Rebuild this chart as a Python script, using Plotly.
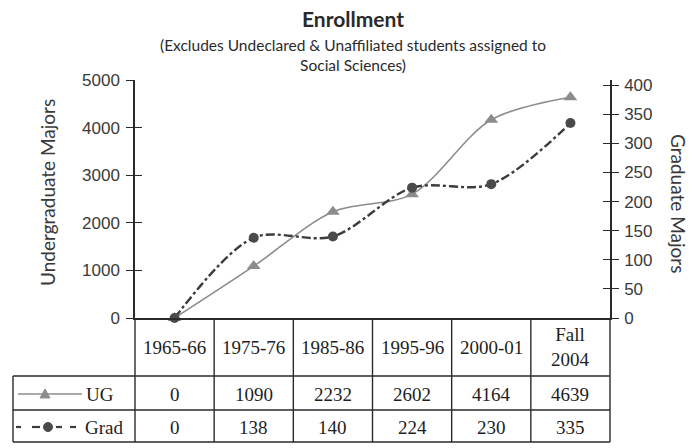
import plotly.graph_objects as go

# Enrollment by period
periods = ["1965-66", "1975-76", "1985-86", "1995-96", "2000-01", "Fall 2004"]
period_labels = ["1965-66", "1975-76", "1985-86", "1995-96", "2000-01", "Fall<br>2004"]
ug = [0, 1090, 2232, 2602, 4164, 4639]
grad = [0, 138, 140, 224, 230, 335]
ug_ticks = [0, 1000, 2000, 3000, 4000, 5000]
grad_ticks = [0, 50, 100, 150, 200, 250, 300, 350, 400]

W, H = 692, 448
L, R, T, B = 135, 82, 80, 130
PW, PH = W - L - R, H - T - B

UG_COLOR = "#8c8c8c"
GRAD_COLOR = "#3c3c3c"
INK = "#2a2a2a"


def px(x):
    return (x - L) / PW


def py(y):
    return (H - B - y) / PH


fig = go.Figure()
fig.add_trace(go.Scatter(
    x=periods, y=ug, name="UG", mode="lines+markers",
    line=dict(color=UG_COLOR, width=1.6, shape="spline", smoothing=0.9),
    marker=dict(symbol="triangle-up", size=12, color=UG_COLOR),
    yaxis="y", cliponaxis=False,
))
fig.add_trace(go.Scatter(
    x=periods, y=grad, name="Grad", mode="lines+markers",
    line=dict(color=GRAD_COLOR, width=2.4, dash="dashdot", shape="spline", smoothing=0.9),
    marker=dict(symbol="circle", size=10, color="#4a4a4a"),
    yaxis="y2", cliponaxis=False,
))

tick_font = dict(family="Liberation Sans", size=17, color="#3a3a3a")
axis_common = dict(showgrid=False, zeroline=False, fixedrange=True)

fig.update_layout(
    width=W, height=H,
    margin=dict(l=L, r=R, t=T, b=B),
    paper_bgcolor="white", plot_bgcolor="white",
    showlegend=False,
    xaxis=dict(type="category", categoryorder="array", categoryarray=periods,
               range=[-0.5, len(periods) - 0.5], showticklabels=False, ticks="",
               showline=True, linecolor=INK, linewidth=1.5, **axis_common),
    yaxis=dict(range=[0, 5000], tickvals=ug_ticks, ticks="outside", ticklen=7,
               tickcolor=INK, tickwidth=1.3, showline=True, linecolor=INK, linewidth=1.5,
               tickfont=tick_font, ticklabelstandoff=3, **axis_common),
    yaxis3=dict(range=[0, 5000], tickvals=ug_ticks, ticks="inside", ticklen=7,
                tickcolor=INK, tickwidth=1.3, showticklabels=False, overlaying="y",
                side="left", anchor="x", **axis_common),
    yaxis2=dict(range=[0, 409], tickvals=grad_ticks, ticks="outside", ticklen=7,
                tickcolor=INK, tickwidth=1.3, showline=True, linecolor=INK, linewidth=1.5,
                tickfont=tick_font, ticklabelstandoff=2, overlaying="y", side="right",
                anchor="x", **axis_common),
    yaxis4=dict(range=[0, 409], tickvals=grad_ticks, ticks="inside", ticklen=7,
                tickcolor=INK, tickwidth=1.3, showticklabels=False, overlaying="y",
                side="right", anchor="x", **axis_common),
)

# invisible traces so the overlay tick axes are drawn
fig.add_trace(go.Scatter(x=[periods[0]], y=[0], yaxis="y3", mode="markers",
                         marker=dict(opacity=0), hoverinfo="skip"))
fig.add_trace(go.Scatter(x=[periods[0]], y=[0], yaxis="y4", mode="markers",
                         marker=dict(opacity=0), hoverinfo="skip"))


def note(text, x, y, font, xanchor="center", **kw):
    return dict(text=text, x=x, y=y, xref="paper", yref="paper", showarrow=False,
                xanchor=xanchor, yanchor="middle", font=font, **kw)


annotations = []
title_font = "Lato"
annotations.append(note("<b>Enrollment</b>", px(353), py(18),
                        dict(family=title_font, size=21, color="#2a2a2a")))
annotations.append(note("(Excludes Undeclared &amp; Unaffiliated students assigned to<br>Social Sciences)",
                        px(353), py(55), dict(family=title_font, size=15.5, color="#2a2a2a"),
                        align="center"))
annotations.append(note("Undergraduate Majors", px(47), py(193),
                        dict(family=title_font, size=19, color="#3a3a3a"), textangle=-90))
annotations.append(note("Graduate Majors", px(679), py(203),
                        dict(family=title_font, size=19, color="#3a3a3a"), textangle=90))

# data table beneath the plot
n = len(periods)
cell_font = dict(family="Liberation Serif", size=19, color="#1e1e1e")
y_head, y_ug, y_grad = 347, 394, 427
for k in range(n):
    cx = (k + 0.5) / n
    annotations.append(note(period_labels[k], cx, py(y_head), cell_font))
    annotations.append(note(str(ug[k]), cx, py(y_ug), cell_font))
    annotations.append(note(str(grad[k]), cx, py(y_grad), cell_font))

annotations.append(note("UG", px(84), py(y_ug), cell_font, xanchor="left"))
annotations.append(note("Grad", px(83), py(y_grad), cell_font, xanchor="left"))

shapes = []
line_style = dict(color=INK, width=1.4)
row_top, row_mid, row_bot = 376, 410, 442
left_edge = 13
for yy in (row_top, row_mid, row_bot):
    shapes.append(dict(type="line", xref="paper", yref="paper",
                       x0=px(left_edge), x1=1, y0=py(yy), y1=py(yy), line=line_style))
for k in range(n + 1):
    shapes.append(dict(type="line", xref="paper", yref="paper",
                       x0=k / n, x1=k / n, y0=0, y1=py(row_bot), line=line_style))
shapes.append(dict(type="line", xref="paper", yref="paper",
                   x0=px(left_edge), x1=px(left_edge), y0=py(row_top), y1=py(row_bot), line=line_style))

# legend keys in the table's first column
shapes.append(dict(type="line", xref="paper", yref="paper", x0=px(18), x1=px(82),
                   y0=py(y_ug), y1=py(y_ug), line=dict(color=UG_COLOR, width=1.6)))
tri_x, tri_y = 45, y_ug
shapes.append(dict(type="path", xref="paper", yref="paper",
                   path=f"M {px(tri_x - 5)} {py(tri_y + 4)} L {px(tri_x + 5)} {py(tri_y + 4)} "
                        f"L {px(tri_x)} {py(tri_y - 5)} Z",
                   fillcolor=UG_COLOR, line=dict(color=UG_COLOR, width=1)))
for a, b in ((16, 21), (32, 40), (56, 62), (70, 76)):
    shapes.append(dict(type="line", xref="paper", yref="paper", x0=px(a), x1=px(b),
                       y0=py(y_grad), y1=py(y_grad), line=dict(color=GRAD_COLOR, width=2.2)))
shapes.append(dict(type="circle", xref="paper", yref="paper",
                   x0=px(43.5), x1=px(52.5), y0=py(y_grad + 4.5), y1=py(y_grad - 4.5),
                   fillcolor="#4a4a4a", line=dict(color="#4a4a4a", width=1)))

fig.update_layout(annotations=annotations, shapes=shapes)

fig.write_html("out.html")
